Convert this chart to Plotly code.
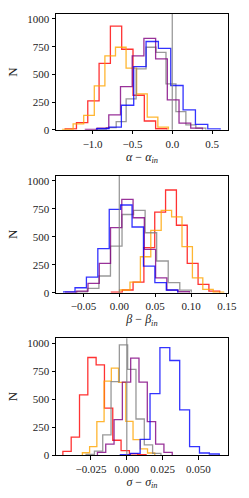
import plotly.graph_objects as go

# ---------------- data ----------------
colors_order = ["red", "orange", "gray", "purple", "blue"]

# Panel 1: alpha - alpha_in  (start edge, bin width, counts)
p1_red_start, p1_red_w = -1.345, 0.142
p1_red = [8, 66, 261, 600, 935, 727, 312, 80, 10]
p1_orange_start, p1_orange_w = -1.378, 0.133
p1_orange = [5, 54, 130, 396, 667, 745, 556, 325, 114, 24]
p1_purple_start, p1_purple_w = -1.091, 0.147
p1_purple = [5, 15, 135, 390, 667, 826, 640, 270, 60, 15]
p1_blue_start, p1_blue_w = -0.949, 0.155
p1_blue = [10, 25, 222, 570, 797, 735, 400, 180, 50, 8]
p1_gray_start, p1_gray_w = -0.954, 0.125
p1_gray = [5, 20, 75, 280, 550, 745, 698, 415, 165, 45, 15]

# Panel 2: beta - beta_in
p2_red_start, p2_red_w = -0.011, 0.0151
p2_red = [5, 25, 96, 403, 722, 919, 604, 263, 75, 15]
p2_orange_start, p2_orange_w = 0.0004, 0.0145
p2_orange = [25, 95, 322, 558, 737, 678, 412, 134, 30, 5]
p2_purple_start, p2_purple_w = -0.075, 0.0157
p2_purple = [5, 15, 84, 263, 582, 836, 671, 388, 134, 24, 9]
p2_blue_start, p2_blue_w = -0.0776, 0.0159
p2_blue = [8, 45, 140, 394, 746, 785, 588, 239, 90, 25]
p2_gray_start, p2_gray_w = -0.0606, 0.0161
p2_gray = [8, 40, 150, 418, 700, 737, 537, 284, 90, 24]

# Panel 3: sigma - sigma_in
p3_red_start, p3_red_w = -0.0446, 0.0058
p3_red = [33, 160, 538, 872, 806, 420, 132, 39, 10, 3]
p3_orange_start, p3_orange_w = -0.031, 0.00505
p3_orange = [20, 75, 298, 660, 776, 650, 300, 137, 54, 18]
p3_purple_start, p3_purple_w = -0.0205, 0.0058
p3_purple = [24, 98, 316, 651, 866, 651, 299, 98, 24]
p3_blue_start, p3_blue_w = -0.0045, 0.0069
p3_blue = [4, 15, 140, 548, 960, 845, 403, 75, 18, 9]
p3_gray_start, p3_gray_w = -0.0284, 0.0058
p3_gray = [5, 35, 180, 657, 985, 765, 322, 90, 15]

x_titles = ["<i>α</i> − <i>α</i><sub><i>in</i></sub>",
            "<i>β</i> − <i>β</i><sub><i>in</i></sub>",
            "<i>σ</i> − <i>σ</i><sub><i>in</i></sub>"]
x_tickvals = [[-1.0, -0.5, 0.0, 0.5],
              [-0.05, 0.0, 0.05, 0.10, 0.15],
              [-0.025, 0.0, 0.025, 0.050]]
x_ticktext = [["−1.0", "−0.5", "0.0", "0.5"],
              ["−0.05", "0.00", "0.05", "0.10", "0.15"],
              ["−0.025", "0.000", "0.025", "0.050"]]
x_ranges = [[-1.46, 0.70], [-0.0882, 0.1515], [-0.0494, 0.0706]]
y_tickvals = [0, 250, 500, 750, 1000]
y_ticktext = ["0", "250", "500", "750", "1000"]
y_max = 1045

panels = [
    {"red": (p1_red_start, p1_red_w, p1_red), "orange": (p1_orange_start, p1_orange_w, p1_orange),
     "purple": (p1_purple_start, p1_purple_w, p1_purple), "blue": (p1_blue_start, p1_blue_w, p1_blue),
     "gray": (p1_gray_start, p1_gray_w, p1_gray)},
    {"red": (p2_red_start, p2_red_w, p2_red), "orange": (p2_orange_start, p2_orange_w, p2_orange),
     "purple": (p2_purple_start, p2_purple_w, p2_purple), "blue": (p2_blue_start, p2_blue_w, p2_blue),
     "gray": (p2_gray_start, p2_gray_w, p2_gray)},
    {"red": (p3_red_start, p3_red_w, p3_red), "orange": (p3_orange_start, p3_orange_w, p3_orange),
     "purple": (p3_purple_start, p3_purple_w, p3_purple), "blue": (p3_blue_start, p3_blue_w, p3_blue),
     "gray": (p3_gray_start, p3_gray_w, p3_gray)},
]

# ---------------- style ----------------
line_colors = {"red": "#ff0000", "orange": "#ffa500", "gray": "#808080",
               "purple": "#800080", "blue": "#0000ff"}
FONT = "Liberation Serif"
H = 498
top_px, bot_px = 14.3, 43.3
plot_h = H - top_px - bot_px
panel_px = [(14.3, 130.0), (176.0, 292.7), (338.0, 454.7)]


def ydom(t, b):
    return [(H - bot_px - b) / plot_h, (H - bot_px - t) / plot_h]


fig = go.Figure()
for i, panel in enumerate(panels):
    xa = "x" if i == 0 else f"x{i+1}"
    ya = "y" if i == 0 else f"y{i+1}"
    for c in colors_order:
        start, w, counts = panel[c]
        n = len(counts)
        edges = [start + k * w for k in range(n + 1)]
        xs = [edges[0]] + edges
        ys = [0] + list(counts) + [0]
        fig.add_trace(go.Scatter(x=xs, y=ys, mode="lines", line_shape="hv",
                                 line=dict(color=line_colors[c], width=1.3),
                                 opacity=0.8, xaxis=xa, yaxis=ya,
                                 showlegend=False, hoverinfo="skip"))
    fig.add_shape(type="line", x0=0, x1=0, y0=0, y1=1, xref=xa, yref=f"{ya} domain",
                  line=dict(color="#808080", width=1.2), opacity=0.85, layer="above")

axis_common = dict(showline=True, linecolor="black", linewidth=1, mirror=True,
                   ticks="outside", ticklen=3.5, tickwidth=1, tickcolor="black",
                   showgrid=False, zeroline=False, automargin=False,
                   tickfont=dict(family=FONT, size=11, color="#222"))
layout = dict(width=249, height=498, showlegend=False,
              margin=dict(l=55.5, r=20.7, t=top_px, b=bot_px, autoexpand=False),
              paper_bgcolor="white", plot_bgcolor="white",
              font=dict(family=FONT, color="#222"))
for i in range(3):
    xk = "xaxis" if i == 0 else f"xaxis{i+1}"
    yk = "yaxis" if i == 0 else f"yaxis{i+1}"
    ya = "y" if i == 0 else f"y{i+1}"
    xa = "x" if i == 0 else f"x{i+1}"
    layout[xk] = dict(axis_common, domain=[0, 1], anchor=ya, range=x_ranges[i],
                      tickvals=x_tickvals[i], ticktext=x_ticktext[i],
                      title=dict(text=x_titles[i], font=dict(family=FONT, size=12), standoff=2))
    layout[yk] = dict(axis_common, domain=ydom(*panel_px[i]), anchor=xa, range=[0, y_max],
                      tickvals=y_tickvals, ticktext=y_ticktext,
                      title=dict(text="N", font=dict(family=FONT, size=13), standoff=6))
fig.update_layout(**layout)
fig.write_html("out.html", config={"displayModeBar": False},
               post_script="document.body.style.margin='0';document.body.style.padding='0';")
